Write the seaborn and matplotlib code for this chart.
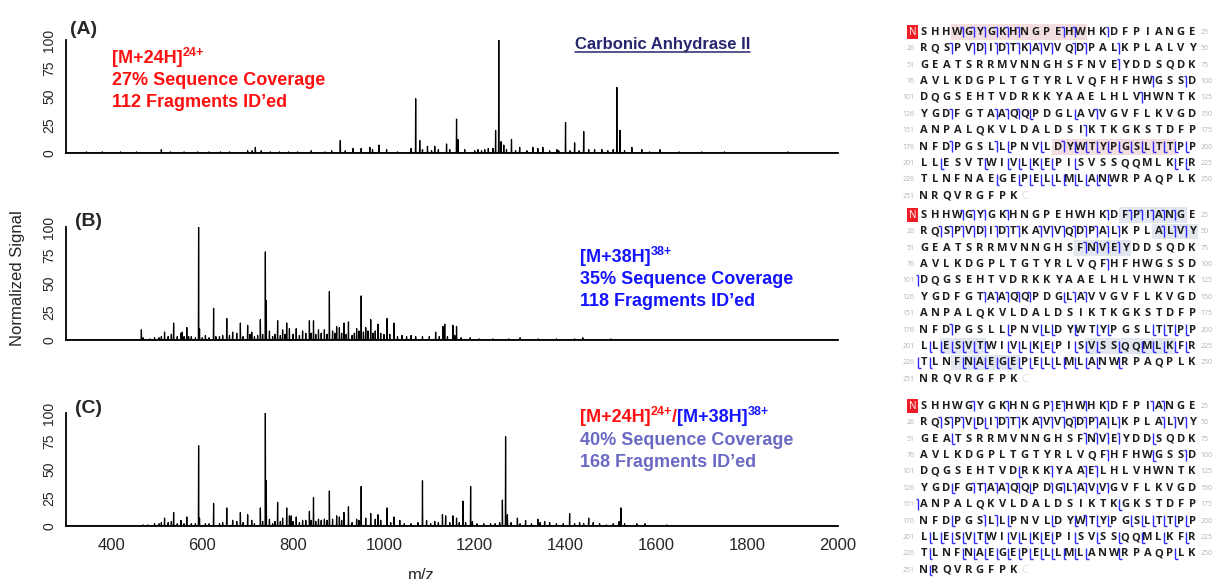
import numpy as np
import pandas as pd
import matplotlib
matplotlib.use("Agg")
import matplotlib.pyplot as plt
import seaborn as sns
from matplotlib.collections import LineCollection
from matplotlib.patches import Rectangle
from matplotlib.lines import Line2D

# ---------------- data ----------------
mz_a = [345, 380, 420, 455, 510, 530, 560, 590, 615, 640, 660, 700, 710, 717, 730, 750, 770, 790, 810, 840,
        870, 885, 904, 915, 932, 950, 969, 975, 989, 1006, 1030, 1060, 1070, 1079, 1085, 1096, 1105, 1112, 1120,
        1138, 1145, 1160, 1163, 1178, 1200, 1207, 1215, 1222, 1230, 1240, 1246, 1253, 1258, 1264, 1270, 1281,
        1290, 1299, 1315, 1328, 1339, 1350, 1365, 1381, 1385, 1400, 1410, 1420, 1430, 1440, 1451, 1464, 1480,
        1493, 1505, 1513, 1520, 1530, 1546, 1568, 1585, 1608, 1650, 1700, 1750, 1890]
int_a = [1, 1, 1, 1, 3, 1, 1, 1, 1, 1, 1, 2, 2, 5, 2, 1, 1, 1, 1, 2,
         1, 2, 11, 2, 4, 4, 5, 3, 7, 3, 1, 4, 48, 11, 3, 6, 2, 6, 3,
         8, 3, 30, 12, 3, 2, 3, 2, 3, 4, 4, 20, 100, 10, 7, 3, 12,
         2, 5, 2, 5, 4, 5, 2, 3, 2, 27, 2, 9, 2, 19, 3, 3, 3,
         2, 3, 58, 20, 2, 5, 3, 1, 3, 1, 1, 1, 1]

mz_b = [466, 470, 485, 495, 505, 510, 517, 525, 532, 537, 545, 553, 556, 560, 566, 570, 576, 585, 592, 594,
        600, 607, 615, 625, 630, 638, 645, 654, 660, 667, 676, 684, 690, 700, 705, 709, 715, 722, 728, 733,
        739, 741, 748, 755, 760, 766, 772, 777, 782, 786, 792, 800, 807, 814, 821, 828, 836, 840, 845, 850,
        856, 862, 869, 875, 880, 887, 892, 896, 902, 907, 912, 917, 922, 930, 935, 940, 945, 950, 955, 960,
        965, 971, 976, 981, 987, 993, 1000, 1007, 1013, 1022, 1030, 1040, 1050, 1060, 1070, 1085, 1100, 1114,
        1122, 1130, 1134, 1140, 1152, 1156, 1160, 1170, 1190, 1210, 1240, 1275, 1300, 1340, 1380, 1420, 1438, 1500]
int_b = [9, 2, 1, 2, 2, 3, 7, 3, 5, 15, 3, 6, 7, 3, 11, 3, 3, 2, 100, 10,
         2, 4, 2, 28, 3, 3, 4, 19, 4, 7, 6, 15, 3, 13, 5, 7, 3, 4, 18, 5,
         78, 35, 8, 3, 5, 17, 4, 9, 5, 15, 10, 5, 10, 4, 8, 6, 17, 6, 17, 5,
         9, 6, 9, 5, 43, 8, 6, 12, 11, 6, 15, 5, 16, 4, 6, 10, 8, 39, 7, 11,
         8, 18, 6, 8, 14, 6, 5, 19, 5, 15, 3, 4, 3, 4, 3, 3, 3, 7,
         3, 12, 14, 3, 13, 4, 12, 2, 2, 1, 1, 1, 2, 1, 1, 1, 2, 1]

mz_c = [470, 480, 495, 505, 510, 517, 525, 532, 537, 545, 553, 560, 566, 576, 585, 592, 594, 607, 615, 625,
        638, 645, 654, 667, 676, 684, 690, 700, 709, 715, 728, 733, 739, 741, 748, 755, 760, 766, 772, 777,
        786, 792, 796, 800, 807, 814, 821, 828, 836, 840, 845, 850, 856, 862, 869, 875, 880, 887, 896, 902,
        907, 912, 922, 930, 940, 945, 950, 960, 971, 981, 987, 993, 1007, 1015, 1022, 1035, 1045, 1060, 1075,
        1085, 1094, 1103, 1112, 1120, 1129, 1136, 1145, 1152, 1160, 1166, 1174, 1180, 1191, 1195, 1205, 1220,
        1235, 1245, 1255, 1261, 1268, 1272, 1280, 1294, 1300, 1312, 1325, 1339, 1344, 1354, 1365, 1380, 1395,
        1409, 1420, 1431, 1440, 1451, 1461, 1475, 1490, 1505, 1518, 1522, 1530, 1557, 1575, 1623]
int_c = [1, 1, 2, 2, 3, 7, 3, 4, 12, 2, 5, 2, 8, 2, 2, 71, 7, 2, 2, 20,
         2, 3, 16, 5, 4, 12, 3, 10, 5, 2, 16, 4, 100, 40, 6, 2, 4, 21, 4, 7,
         16, 9, 9, 4, 8, 3, 5, 5, 13, 5, 25, 4, 6, 5, 6, 5, 31, 6, 9, 8,
         5, 12, 17, 3, 6, 5, 35, 7, 11, 6, 10, 5, 16, 3, 8, 5, 2, 2, 3,
         40, 5, 2, 4, 3, 10, 9, 3, 9, 7, 3, 22, 3, 35, 4, 2, 2,
         2, 2, 3, 23, 79, 10, 3, 7, 2, 5, 2, 6, 3, 4, 3, 2, 2,
         11, 2, 3, 2, 7, 3, 2, 1, 2, 4, 16, 2, 2, 2, 1]

x_ticks = [400, 600, 800, 1000, 1200, 1400, 1600, 1800, 2000]
y_ticks = [0, 25, 50, 75, 100]
panel_labels = ["(A)", "(B)", "(C)"]

sequence_rows = ["SHHWGYGKHNGPEHWHKDFPIANGE", "RQSPVDIDTKAVVQDPALKPLALVY", "GEATSRRMVNNGHSFNVEYDDSQDK",
                 "AVLKDGPLTGTYRLVQFHFHWGSSD", "DQGSEHTVDRKKYAAELHLVHWNTK", "YGDFGTAAQQPDGLAVVGVFLKVGD",
                 "ANPALQKVLDALDSIKTKGKSTDFP", "NFDPGSLLPNVLDYWTYPGSLTTPP", "LLESVTWIVLKEPISVSSQQMLKFR",
                 "TLNFNAEGEPELLMLANWRPAQPLK", "NRQVRGFPK"]

# c-type cleavages (after residue i) and z-type cleavages (before residue j)
c_sites_a = [4, 5, 6, 7, 8, 9, 13, 14, 17, 28, 30, 31, 32, 33, 34, 35, 36, 37, 39, 40, 43, 68, 96, 99, 120,
             128, 132, 133, 134, 141, 165, 178, 182, 188]
z_sites_a = [136, 140, 184, 187, 190, 191, 192, 193, 194, 195, 196, 197, 198, 199, 200, 203, 207, 209, 210,
             211, 212, 213, 215, 224, 225, 233, 235, 236, 237, 238, 239, 240, 241, 242, 243]
c_sites_b = [4, 5, 6, 8, 17, 19, 20, 21, 22, 23, 27, 28, 29, 30, 31, 32, 33, 34, 36, 37, 38, 39, 40, 41, 42,
             43, 47, 48, 49, 65, 66, 67, 68, 92, 100, 131, 132, 133, 134, 135, 139, 140, 178]
z_sites_b = [139, 184, 187, 188, 190, 192, 193, 197, 198, 199, 200, 202, 203, 204, 205, 206, 207, 209, 210,
             211, 212, 213, 215, 216, 217, 219, 221, 222, 223, 224, 225, 226, 227, 230, 231, 232, 233, 234,
             235, 236, 237, 238, 239, 240, 241, 242, 244]
c_sites_c = [5, 8, 12, 13, 15, 17, 21, 22, 27, 28, 29, 32, 33, 34, 36, 37, 38, 39, 40, 41, 42, 43, 47, 48,
             49, 65, 66, 67, 68, 92, 99, 112, 115, 116, 130, 131, 132, 133, 134, 137, 138, 139, 140, 142,
             150, 181, 182, 190]
z_sites_c = [31, 32, 54, 72, 97, 110, 129, 136, 142, 169, 179, 184, 188, 190, 192, 193, 195, 196, 197, 198,
             199, 200, 202, 203, 204, 205, 206, 207, 209, 210, 211, 212, 213, 215, 217, 219, 221, 223, 225,
             227, 230, 231, 232, 233, 234, 235, 236, 237, 238, 239, 240, 241, 244, 249, 252]

# shaded residue ranges: (first, last)
shade_a = [(4, 15), (188, 198)]
shade_b = [(19, 24), (47, 50), (65, 69), (203, 206), (216, 223), (229, 234)]
shade_c = []

# ---------------- figure ----------------
W, H = 1212, 579
sns.set_theme(style="white")
plt.rcParams["font.family"] = ["Liberation Sans", "DejaVu Sans"]

fig = plt.figure(figsize=(W / 100, H / 100), dpi=100)
fig.patch.set_facecolor("white")


def fx(px):
    return px / W


def fy(py):
    return 1 - py / H


def axes_px(left, top, right, bottom):
    return fig.add_axes([fx(left), fy(bottom), (right - left) / W, (bottom - top) / H])


def stick_frame(mz, inten):
    xs, ys = [300.0], [0.0]
    for m, h in sorted(zip(mz, inten)):
        xs += [m - 0.6, m, m + 0.6]
        ys += [0, h, 0]
    xs.append(2000.0)
    ys.append(0.0)
    return pd.DataFrame({"mz": xs, "signal": ys})


spectra = [(mz_a, int_a, 40, 153), (mz_b, int_b, 227, 340), (mz_c, int_c, 413, 526)]
for i, (mz, inten, top, bot) in enumerate(spectra):
    ax = axes_px(66, top, 838, bot)
    df = stick_frame(mz, inten)
    sns.lineplot(data=df, x="mz", y="signal", ax=ax, color="black", lw=0.9,
                 sort=False, estimator=None)
    ax.set_xlim(300, 2000)
    ax.set_ylim(0, 100)
    sns.despine(ax=ax)
    for s in ("left", "bottom"):
        ax.spines[s].set_linewidth(1.3)
        ax.spines[s].set_color("black")
    ax.set_xlabel("")
    ax.set_ylabel("")
    ax.set_yticks(y_ticks)
    ax.set_yticklabels([str(v) for v in y_ticks], fontsize=10, rotation=90, va="center")
    ax.tick_params(axis="y", direction="out", length=5, width=1.2, color="black", pad=2)
    if i == 2:
        ax.set_xticks(x_ticks)
        ax.set_xticklabels([str(v) for v in x_ticks], fontsize=12)
        ax.tick_params(axis="x", direction="out", length=5, width=1.2, color="black", pad=4)
    else:
        ax.set_xticks([])
    ax.patch.set_alpha(0)

fig.text(fx(18), fy(278), "Normalized Signal", rotation=90, ha="center", va="center", fontsize=12)
fig.text(fx(421), fy(568), "m/z", ha="center", va="top", fontsize=12)

for lab, (x, y) in zip(panel_labels, [(70, 34), (75, 226), (75, 413)]):
    fig.text(fx(x), fy(y), lab, fontsize=14, fontweight="bold", ha="left", va="baseline")

renderer = fig.canvas.get_renderer()


def seg_line(x_px, base_px, segs):
    cur = x_px
    for s, color, size, rise in segs:
        t = fig.text(fx(cur), fy(base_px - rise), s, color=color, fontsize=size,
                     fontweight="bold", ha="left", va="baseline")
        cur += t.get_window_extent(renderer).width


RED, BLUE, LAV = "#ff1010", "#1414ff", "#6a6ac4"
seg_line(112, 63, [("[M+24H]", RED, 13, 0), ("24+", RED, 9, 7)])
seg_line(112, 85, [("27% Sequence Coverage", RED, 13, 0)])
seg_line(112, 107, [("112 Fragments ID\u2019ed", RED, 13, 0)])

seg_line(580, 262, [("[M+38H]", BLUE, 13, 0), ("38+", BLUE, 9, 7)])
seg_line(580, 284, [("35% Sequence Coverage", BLUE, 13, 0)])
seg_line(580, 306, [("118 Fragments ID\u2019ed", BLUE, 13, 0)])

seg_line(580, 422, [("[M+24H]", RED, 13, 0), ("24+", RED, 9, 7), ("/", RED, 13, 0),
                    ("[M+38H]", BLUE, 13, 0), ("38+", BLUE, 9, 7)])
seg_line(580, 445, [("40% Sequence Coverage", LAV, 13, 0)])
seg_line(580, 467, [("168 Fragments ID\u2019ed", LAV, 13, 0)])

NAVY = "#26266e"
tt = fig.text(fx(575), fy(49), "Carbonic Anhydrase II", color=NAVY, fontsize=12,
              fontweight="bold", ha="left", va="baseline")
bb = tt.get_window_extent(renderer)
fig.add_artist(Line2D([bb.x0 / W, bb.x1 / W], [fy(51.5), fy(51.5)], color=NAVY, lw=1.1,
                      transform=fig.transFigure))

# ---------------- sequence maps ----------------
COLW, ROWH, X0 = 11.17, 16.4, 924
maps = [(32, c_sites_a, z_sites_a, shade_a, "#f2dede"),
        (215, c_sites_b, z_sites_b, shade_b, "#e2e6ee"),
        (406, c_sites_c, z_sites_c, shade_c, "#e2e6ee")]


def grid_pos(res):
    k = res - 1
    return k % 25 + 1, k // 25 + 1


for y0, csites, zsites, shades, shcol in maps:
    top, bot = y0 - 10, y0 + 10 * ROWH + 10
    ax = axes_px(880, top, 1212, bot)
    ax.set_xlim((880 - X0) / COLW + 1, (1212 - X0) / COLW + 1)
    ax.set_ylim(1 + (bot - y0) / ROWH, 1 + (top - y0) / ROWH)
    ax.axis("off")
    # shading
    for a, b in shades:
        ca, r = grid_pos(a)
        cb, _ = grid_pos(b)
        ax.add_patch(Rectangle((ca - 0.55, r - 0.47), cb - ca + 1.1, 0.94, color=shcol, lw=0, zorder=0))
    # N box
    ax.add_patch(Rectangle((-0.5, 0.6), 1.0, 0.8, color="#ee1c25", lw=0, zorder=1))
    ax.text(0, 1.02, "N", color="white", fontsize=7, ha="center", va="center", family="Open Sans")
    # residues
    for r, row in enumerate(sequence_rows, start=1):
        for c, aa in enumerate(row, start=1):
            ax.text(c, r + 0.02, aa, ha="center", va="center", fontsize=8, fontweight="bold",
                    color="#1e1e1e", family="Open Sans", zorder=3)
        if r > 1:
            ax.text(0.15, r + 0.02, str((r - 1) * 25 + 1), ha="right", va="center", fontsize=5,
                    color="#b4b4b4", family="Open Sans")
        if len(row) == 25:
            ax.text(25.75, r + 0.02, str(r * 25), ha="left", va="center", fontsize=5,
                    color="#b4b4b4", family="Open Sans")
    ax.text(len(sequence_rows[-1]) + 1, 11.02, "C", ha="center", va="center", fontsize=8,
            color="#e0e0e0", family="Open Sans")
    # fragment markers
    segs = []
    for i in csites:
        c, r = grid_pos(i + 1)
        x = c - 0.5
        segs.append([(x, r - 0.33), (x, r + 0.33)])
        segs.append([(x, r - 0.33), (x - 0.25, r - 0.33)])
    for j in zsites:
        c, r = grid_pos(j)
        x = c - 0.5
        segs.append([(x, r - 0.33), (x, r + 0.33)])
        segs.append([(x, r + 0.33), (x + 0.25, r + 0.33)])
    ax.add_collection(LineCollection(segs, colors="#2a2aff", linewidths=1.0, zorder=4))

fig.savefig("out.png", dpi=100, facecolor="white")
